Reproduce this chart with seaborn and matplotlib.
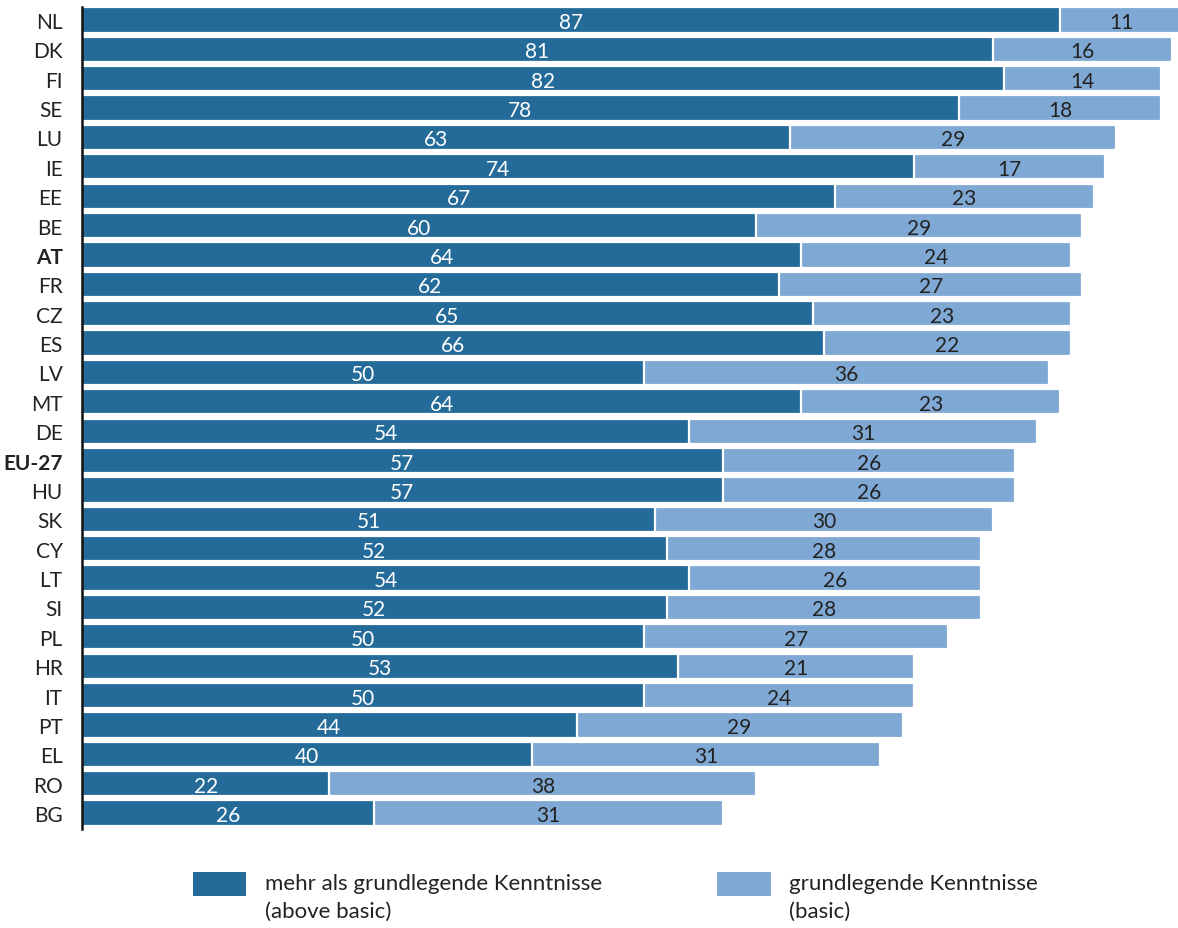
import matplotlib
matplotlib.use("Agg")
import matplotlib.pyplot as plt
from matplotlib.patches import Rectangle
import seaborn as sns
import pandas as pd

countries = ["NL", "DK", "FI", "SE", "LU", "IE", "EE", "BE", "AT", "FR", "CZ", "ES", "LV", "MT",
             "DE", "EU-27", "HU", "SK", "CY", "LT", "SI", "PL", "HR", "IT", "PT", "EL", "RO", "BG"]
above_basic = [87, 81, 82, 78, 63, 74, 67, 60, 64, 62, 65, 66, 50, 64,
               54, 57, 57, 51, 52, 54, 52, 50, 53, 50, 44, 40, 22, 26]
basic = [11, 16, 14, 18, 29, 17, 23, 29, 24, 27, 23, 22, 36, 23,
         31, 26, 26, 30, 28, 26, 28, 27, 21, 24, 29, 31, 38, 31]
bold_labels = ["AT", "EU-27"]
legend_labels = ["mehr als grundlegende Kenntnisse\n(above basic)",
                 "grundlegende Kenntnisse\n(basic)"]

DARK = "#256B9A"
LIGHT = "#7FA9D4"

df = pd.DataFrame({"country": countries, "above": above_basic, "basic": basic})
df["total"] = df["above"] + df["basic"]

sns.set_theme(style="white")
plt.rcParams["font.family"] = ["Lato", "DejaVu Sans"]

fig = plt.figure(figsize=(11.78, 9.29), dpi=100)
ax = fig.add_axes([82 / 1178, 99 / 929, 1096 / 1178, 822 / 929])

sns.barplot(data=df, y="country", x="total", color=LIGHT, orient="h", width=0.86,
            edgecolor="white", linewidth=1.6, saturation=1, ax=ax)
sns.barplot(data=df, y="country", x="above", color=DARK, orient="h", width=0.86,
            edgecolor="white", linewidth=1.6, saturation=1, ax=ax)

ax.set_xlim(0, 97.5)
ax.set_ylim(len(countries) - 0.455, -0.443)
ax.set_xlabel("")
ax.set_ylabel("")
ax.set_xticks([])
for s in ["top", "right", "bottom"]:
    ax.spines[s].set_visible(False)
ax.spines["left"].set_color("#111111")
ax.spines["left"].set_linewidth(1.8)
ax.tick_params(axis="y", length=0, pad=14, labelsize=15, labelcolor="#222222")
for lbl in ax.get_yticklabels():
    if lbl.get_text() in bold_labels:
        lbl.set_fontweight("bold")

for i, (a, b) in enumerate(zip(above_basic, basic)):
    ax.text(a / 2, i, str(a), ha="center", va="center_baseline", color="white", fontsize=15)
    ax.text(a + b / 2, i, str(b), ha="center", va="center_baseline", color="#222222", fontsize=15)

# legend
fig.add_artist(Rectangle((193 / 1178, 1 - 897 / 929), 53 / 1178, 24 / 929,
                         transform=fig.transFigure, facecolor=DARK, edgecolor="none"))
fig.add_artist(Rectangle((717 / 1178, 1 - 897 / 929), 54 / 1178, 24 / 929,
                         transform=fig.transFigure, facecolor=LIGHT, edgecolor="none"))
fig.text(265 / 1178, 1 - 874 / 929, legend_labels[0], ha="left", va="top",
         fontsize=16, color="#222222", linespacing=1.5)
fig.text(789 / 1178, 1 - 874 / 929, legend_labels[1], ha="left", va="top",
         fontsize=16, color="#222222", linespacing=1.5)

fig.savefig("out.png", dpi=100)
